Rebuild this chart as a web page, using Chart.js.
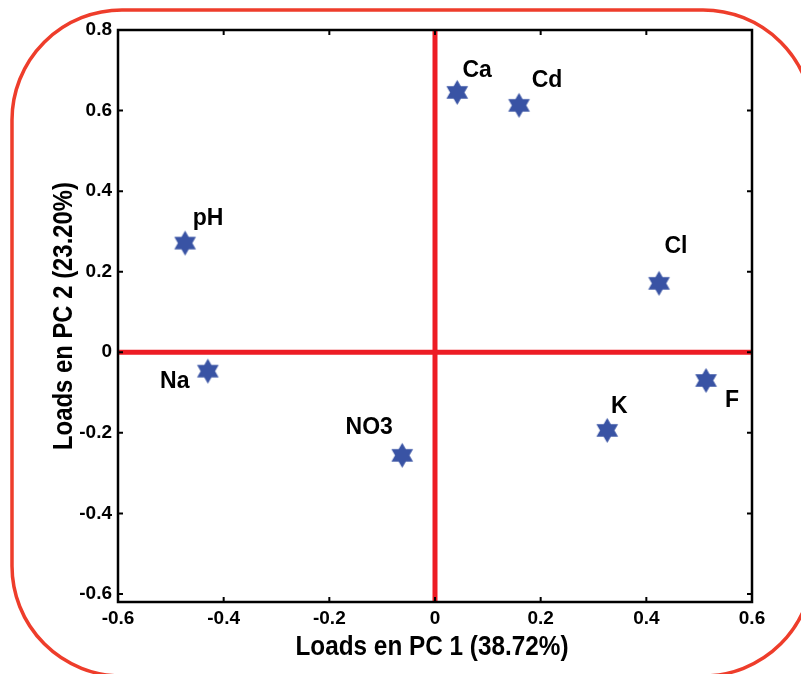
<!DOCTYPE html>
<html>
<head>
<meta charset="utf-8">
<script src="https://cdn.jsdelivr.net/npm/chart.js@4/dist/chart.umd.min.js"></script>
<style>
  html, body { margin: 0; padding: 0; background: #ffffff; }
  #wrap { width: 801px; height: 674px; position: relative; }
</style>
</head>
<body>
<div id="wrap"><canvas id="c" width="801" height="674"></canvas></div>
<script>
// ---- data ----
const categories = ['pH', 'Na', 'Ca', 'Cd', 'Cl', 'F', 'K', 'NO3'];
const pc1Loads = [-0.473, -0.430, 0.042, 0.159, 0.424, 0.513, 0.326, -0.062];
const pc2Loads = [0.271, -0.047, 0.645, 0.613, 0.171, -0.070, -0.194, -0.256];
const xTickValues = [-0.6, -0.4, -0.2, 0, 0.2, 0.4, 0.6];
const xTickLabels = ['-0.6', '-0.4', '-0.2', '0', '0.2', '0.4', '0.6'];
const yTickValues = [-0.6, -0.4, -0.2, 0, 0.2, 0.4, 0.6, 0.8];
const yTickLabels = ['-0.6', '-0.4', '-0.2', '0', '0.2', '0.4', '0.6', '0.8'];
const xTitle = 'Loads en PC 1 (38.72%)';
const yTitle = 'Loads en PC 2 (23.20%)';

// ---- styles ----
const labelOffsets = [[23, -18], [-33, 17], [20, -15], [28, -18], [17, -30], [26, 27], [12, -17], [-33, -21]];
const starColor = '#3953a4';
const refRed = '#ed1c24';
const frameRed = '#ee3d2b';

function makeStar(R) {
  const size = Math.ceil(R * 2 + 4);
  const cv = document.createElement('canvas');
  cv.width = size; cv.height = size;
  const g = cv.getContext('2d');
  const c = size / 2, r = R / Math.sqrt(3);
  g.beginPath();
  for (let k = 0; k < 12; k++) {
    const ang = (-90 + k * 30) * Math.PI / 180;
    const rad = (k % 2 === 0) ? R : r;
    const px = c + rad * Math.cos(ang), py = c + rad * Math.sin(ang);
    if (k === 0) g.moveTo(px, py); else g.lineTo(px, py);
  }
  g.closePath();
  g.fillStyle = starColor;
  g.fill();
  return cv;
}
const starImg = makeStar(12.5);

const points = pc1Loads.map((x, i) => ({ x: x, y: pc2Loads[i] }));

function drawCondensed(ctx, text, x, y, targetW, rotate) {
  ctx.save();
  ctx.font = 'bold 27px "Liberation Sans", Arial, sans-serif';
  ctx.fillStyle = '#000';
  ctx.textAlign = 'center';
  ctx.textBaseline = 'alphabetic';
  const w = ctx.measureText(text).width;
  const s = targetW / w;
  ctx.translate(x, y);
  if (rotate) ctx.rotate(-Math.PI / 2);
  ctx.scale(s, 1);
  ctx.fillText(text, 0, 0);
  ctx.restore();
}

const decor = {
  id: 'decor',
  beforeDatasetsDraw(chart) {
    const { ctx, chartArea: a, scales: { x, y } } = chart;
    ctx.save();
    // red reference lines
    ctx.strokeStyle = refRed;
    ctx.lineWidth = 5;
    const x0 = x.getPixelForValue(0), y0 = y.getPixelForValue(0);
    ctx.beginPath();
    ctx.moveTo(x0, a.top); ctx.lineTo(x0, a.bottom);
    ctx.moveTo(a.left, y0); ctx.lineTo(a.right, y0);
    ctx.stroke();
    // box
    ctx.strokeStyle = '#000';
    ctx.lineWidth = 2.5;
    ctx.strokeRect(a.left, a.top, a.right - a.left, a.bottom - a.top);
    // inward ticks
    ctx.lineWidth = 2;
    ctx.beginPath();
    xTickValues.forEach(v => {
      const px = x.getPixelForValue(v);
      ctx.moveTo(px, a.bottom); ctx.lineTo(px, a.bottom - 5);
      ctx.moveTo(px, a.top); ctx.lineTo(px, a.top + 5);
    });
    yTickValues.forEach(v => {
      const py = y.getPixelForValue(v);
      ctx.moveTo(a.left, py); ctx.lineTo(a.left + 5, py);
      ctx.moveTo(a.right, py); ctx.lineTo(a.right - 5, py);
    });
    ctx.stroke();
    ctx.restore();
  },
  afterDatasetsDraw(chart) {
    const { ctx } = chart;
    const meta = chart.getDatasetMeta(0);
    ctx.save();
    ctx.font = 'bold 23px "Liberation Sans", Arial, sans-serif';
    ctx.fillStyle = '#000';
    ctx.textAlign = 'center';
    ctx.textBaseline = 'alphabetic';
    meta.data.forEach((el, i) => {
      const o = labelOffsets[i];
      ctx.fillText(categories[i], el.x + o[0], el.y + o[1]);
    });
    ctx.restore();
  },
  afterDraw(chart) {
    const { ctx, chartArea: a } = chart;
    // axis titles
    drawCondensed(ctx, xTitle, (a.left + a.right) / 2 - 3, 655, 273, false);
    drawCondensed(ctx, yTitle, 72, (a.top + a.bottom) / 2, 268, true);
    // rounded frame
    ctx.save();
    ctx.strokeStyle = frameRed;
    ctx.lineWidth = 3.5;
    ctx.beginPath();
    ctx.roundRect(12, 10, 801, 666, 110);
    ctx.stroke();
    ctx.restore();
  }
};

new Chart(document.getElementById('c'), {
  type: 'scatter',
  data: {
    datasets: [{
      label: 'Loads',
      data: points,
      pointStyle: starImg,
      pointRadius: 12,
      backgroundColor: starColor,
      borderColor: starColor,
      clip: false
    }]
  },
  options: {
    responsive: false,
    animation: false,
    events: [],
    layout: { autoPadding: false, padding: { left: 0, top: 30, right: 49, bottom: 0 } },
    plugins: { legend: { display: false }, tooltip: { enabled: false } },
    scales: {
      x: {
        type: 'linear',
        min: -0.6, max: 0.6,
        afterBuildTicks: s => { s.ticks = xTickValues.map(v => ({ value: v })); },
        afterFit: s => { s.height = 72; },
        grid: { display: false, drawTicks: false },
        border: { display: false },
        ticks: {
          padding: 5,
          color: '#000',
          font: { family: '"Liberation Sans", Arial, sans-serif', size: 19, weight: 'bold' },
          maxRotation: 0,
          callback: (v) => { const i = xTickValues.findIndex(t => Math.abs(t - v) < 1e-9); return i >= 0 ? xTickLabels[i] : ''; }
        }
      },
      y: {
        type: 'linear',
        min: -0.62, max: 0.8,
        afterBuildTicks: s => { s.ticks = yTickValues.map(v => ({ value: v })); },
        afterFit: s => { s.width = 118; },
        grid: { display: false, drawTicks: false },
        border: { display: false },
        ticks: {
          padding: 6,
          color: '#000',
          font: { family: '"Liberation Sans", Arial, sans-serif', size: 19, weight: 'bold' },
          callback: (v) => { const i = yTickValues.findIndex(t => Math.abs(t - v) < 1e-9); return i >= 0 ? yTickLabels[i] : ''; }
        }
      }
    }
  },
  plugins: [decor]
});
</script>
</body>
</html>
